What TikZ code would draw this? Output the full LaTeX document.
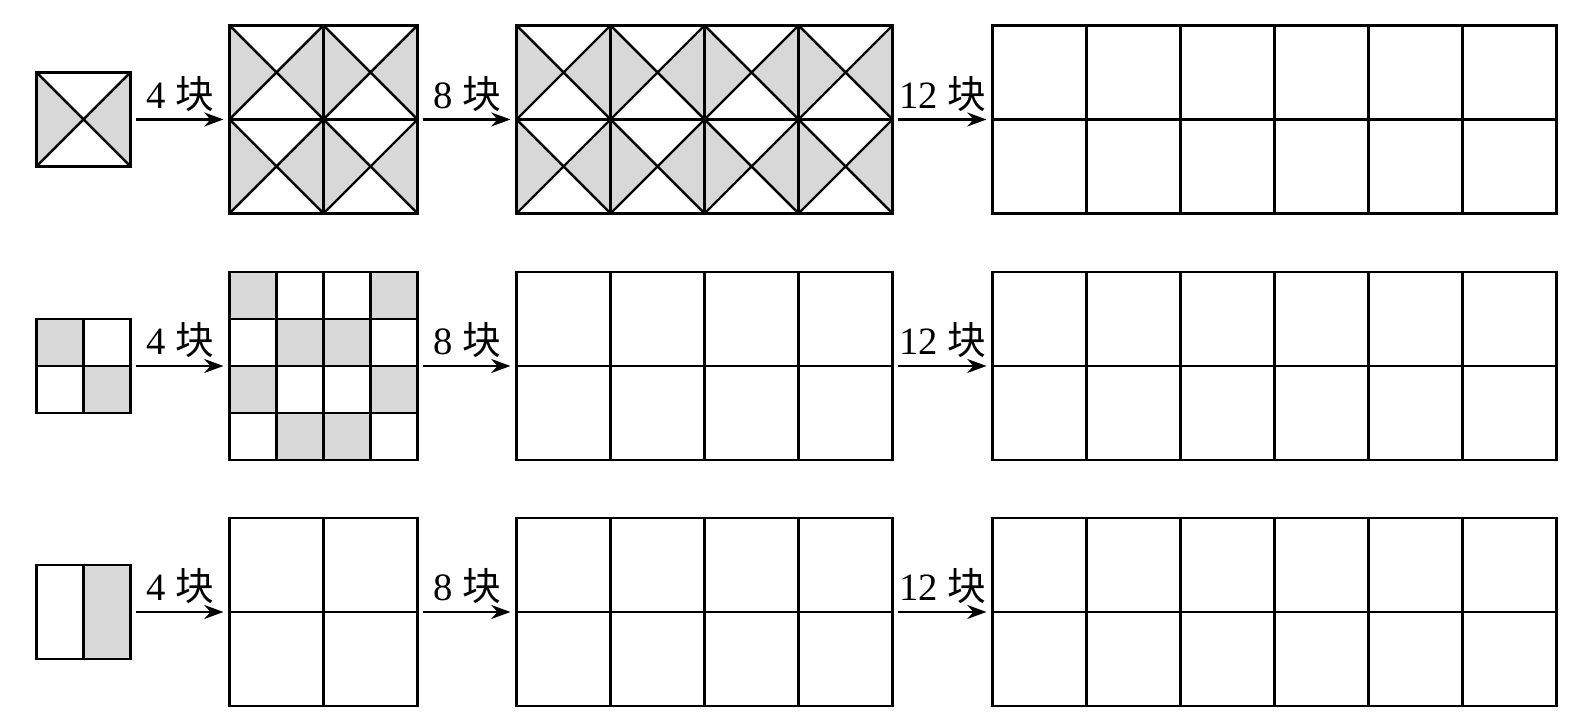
\documentclass[tikz,border=0pt]{standalone}
\usepackage{fontspec}
\setmainfont{Liberation Serif}
\newfontfamily\cjk{Noto Sans CJK SC}
\usepackage{tikz}
\usetikzlibrary{arrows.meta,positioning}
\definecolor{tilegray}{RGB}{216,216,216}

\begin{document}
\begin{tikzpicture}[
    line width = 0.7pt,
    fig/.style 2 args = {draw, inner sep=0pt, outer sep=0pt,
                         minimum width=#1*0.94cm, minimum height=#2*0.94cm},
    arr/.style = {-{Stealth[length=5.5pt, width=4pt]}, line width=0.6pt,
                  shorten <=0.05cm, shorten >=0.06cm},
    lbl/.style = {above, inner sep=2pt, font=\fontsize{11}{13}\selectfont},
  ]
  \useasboundingbox (0,0) rectangle (15.96,7.28);

  % row 1: squares with crossed diagonals
  \node[fig={1}{1}] (a0) at (0.835,6.085) {};
  \node[fig={2}{2}, right=0.99cm of a0] (a1) {};
  \node[fig={4}{2}, right=0.99cm of a1] (a2) {};
  \node[fig={6}{2}, right=1cm of a2]    (a3) {};

  \foreach \n/\c/\r in {a0/1/1, a1/2/2, a2/4/2} {
    \begin{scope}[shift={(\n.south west)}, x=0.94cm, y=0.94cm]
      \foreach \i in {1,...,\c}
        \foreach \j in {1,...,\r} {
          \fill[tilegray] (\i-1,\j-1) -- (\i-0.5,\j-0.5) -- (\i-1,\j) -- cycle
                          (\i,\j-1) -- (\i-0.5,\j-0.5) -- (\i,\j) -- cycle;
          \draw (\i-1,\j-1) -- (\i,\j) (\i-1,\j) -- (\i,\j-1);
        }
      \draw (0,0) grid[step=1] (\c,\r);
    \end{scope}
  }

  % row 2: checker squares
  \node[fig={1}{1}] (b0) at (0.835,3.62) {};
  \node[fig={2}{2}, right=0.99cm of b0] (b1) {};
  \node[fig={4}{2}, right=0.99cm of b1] (b2) {};
  \node[fig={6}{2}, right=1cm of b2]    (b3) {};

  \begin{scope}[shift={(b0.south west)}, x=0.47cm, y=0.47cm]
    \fill[tilegray] (0,1) rectangle (1,2) (1,0) rectangle (2,1);
    \draw (0,0) grid[step=1] (2,2);
  \end{scope}
  \begin{scope}[shift={(b1.south west)}, x=0.47cm, y=0.47cm]
    \foreach \i/\j in {0/3, 3/3, 1/2, 2/2, 0/1, 3/1, 1/0, 2/0}
      \fill[tilegray] (\i,\j) rectangle ++(1,1);
    \draw (0,0) grid[step=1] (4,4);
  \end{scope}

  % row 3: half-shaded square
  \node[fig={1}{1}] (c0) at (0.835,1.16) {};
  \node[fig={2}{2}, right=0.99cm of c0] (c1) {};
  \node[fig={4}{2}, right=0.99cm of c1] (c2) {};
  \node[fig={6}{2}, right=1cm of c2]    (c3) {};

  \begin{scope}[shift={(c0.south west)}, x=0.47cm, y=0.94cm]
    \fill[tilegray] (1,0) rectangle (2,1);
    \draw (0,0) grid[step=1] (2,1);
  \end{scope}

  % empty grids
  \foreach \n/\c in {a3/6, b2/4, b3/6, c1/2, c2/4, c3/6}
    \draw[shift={(\n.south west)}, x=0.94cm, y=0.94cm] (0,0) grid[step=1] (\c,2);

  \draw[arr] (a0) -- node[lbl]{4 {\cjk 块}}  (a1);
  \draw[arr] (a1) -- node[lbl]{8 {\cjk 块}}  (a2);
  \draw[arr] (a2) -- node[lbl]{12 {\cjk 块}} (a3);
  \draw[arr] (b0) -- node[lbl]{4 {\cjk 块}}  (b1);
  \draw[arr] (b1) -- node[lbl]{8 {\cjk 块}}  (b2);
  \draw[arr] (b2) -- node[lbl]{12 {\cjk 块}} (b3);
  \draw[arr] (c0) -- node[lbl]{4 {\cjk 块}}  (c1);
  \draw[arr] (c1) -- node[lbl]{8 {\cjk 块}}  (c2);
  \draw[arr] (c2) -- node[lbl]{12 {\cjk 块}} (c3);
\end{tikzpicture}
\end{document}
